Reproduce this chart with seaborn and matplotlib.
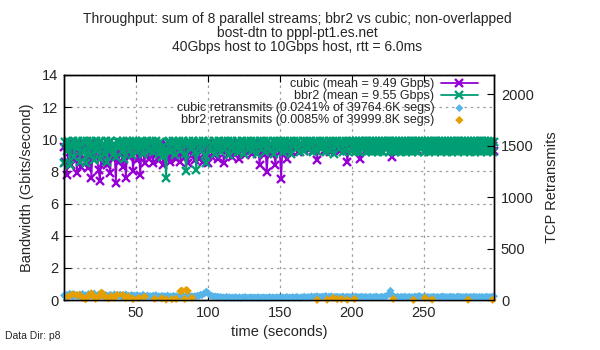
import numpy as np
import matplotlib
matplotlib.use('Agg')
import matplotlib.pyplot as plt
import seaborn as sns

# throughput, Gbits/s, one sample per second
cubic_gbps = [
    9.5, 8.6, 7.8, 9.6, 9.2, 8.4, 9.7, 8.8, 9.4, 7.9,
    9.6, 9.1, 8.3, 9.7, 9.3, 8.6, 9.5, 8.2, 9.6, 7.6,
    9.4, 8.7, 9.7, 8.9, 8.1, 7.4, 9.5, 8.5, 9.7, 9.0,
    8.4, 9.6, 7.9, 9.3, 8.8, 9.7, 7.3, 9.4, 8.6, 9.6,
    9.1, 8.3, 9.7, 7.6, 9.5, 8.9, 9.2, 9.7, 8.0, 9.4,
    9.7, 8.7, 9.3, 7.8, 9.6, 9.1, 8.5, 9.7, 9.4, 8.8,
    9.6, 9.2, 8.5, 9.7, 9.0, 9.5, 8.7, 9.7, 9.3, 8.4,
    9.6, 9.7, 8.9, 9.4, 8.6, 9.7, 9.2, 9.6, 8.8, 9.5,
    9.7, 8.6, 9.3, 9.6, 8.9, 9.7, 8.5, 9.4, 9.6, 9.0,
    9.7, 8.7, 9.5, 9.6, 8.8, 9.7, 9.3, 8.6, 9.6, 9.1,
    8.5, 9.7, 9.4, 8.9, 9.6, 9.7, 9.2, 8.8, 9.6, 9.5,
    9.7, 8.55, 9.4, 9.6, 9.0, 9.7, 9.3, 8.9, 9.6, 9.5,
    9.7, 9.2, 8.8, 9.6, 9.4, 9.7, 9.0, 9.5, 9.7, 9.3,
    9.6, 9.1, 9.7, 9.4, 9.2, 9.6, 8.4, 9.5, 9.7, 9.0,
    9.6, 7.95, 9.4, 9.7, 9.1, 9.6, 9.3, 8.4, 9.7, 9.5,
    9.2, 7.55, 9.6, 9.4, 9.7, 8.8, 9.5, 9.7, 9.3, 9.6,
    9.7, 9.4, 9.6, 9.2, 9.7, 9.5, 9.6, 9.3, 9.7, 9.5,
    9.6, 9.4, 9.7, 9.3, 9.6, 9.5, 8.7, 9.6, 9.7, 9.4,
    9.6, 9.3, 9.7, 9.5, 9.6, 9.2, 9.7, 9.6, 9.4, 9.7,
    9.5, 9.6, 9.3, 9.7, 9.6, 9.4, 9.7, 8.6, 9.5, 9.6,
    9.7, 9.4, 9.6, 9.5, 9.7, 9.3, 8.8, 9.6, 9.7, 9.5,
    9.6, 9.4, 9.7, 9.6, 9.3, 9.7, 9.5, 9.6, 9.7, 9.4,
    9.6, 9.7, 9.5, 9.6, 9.4, 9.7, 9.6, 9.3, 8.9, 9.6,
    9.7, 9.5, 9.6, 9.7, 9.4, 9.6, 9.7, 9.5, 9.6, 9.7,
    9.4, 9.6, 9.7, 9.5, 9.6, 9.7, 9.3, 9.6, 9.7, 9.5,
    9.6, 9.7, 9.4, 9.6, 9.7, 9.5, 9.6, 9.7, 9.4, 9.6,
    9.7, 9.5, 9.6, 9.7, 9.4, 9.6, 9.7, 9.5, 9.6, 9.7,
    9.5, 9.6, 9.7, 9.4, 9.6, 9.7, 9.5, 9.6, 9.7, 9.4,
    9.6, 9.7, 9.5, 9.6, 9.7, 9.4, 9.6, 9.7, 9.5, 9.6,
    9.7, 9.4, 9.6, 9.7, 9.5, 9.6, 9.7, 9.4, 9.6, 9.3,
]
bbr2_gbps = [
    8.5, 9.8, 9.3, 9.9, 8.4, 9.6, 9.9, 8.9, 9.8, 9.4,
    9.9, 8.6, 9.7, 9.9, 9.2, 8.5, 9.9, 9.6, 9.0, 9.9,
    9.5, 8.7, 9.9, 9.3, 9.8, 8.8, 9.9, 9.6, 9.1, 9.9,
    8.6, 9.8, 9.4, 9.9, 9.0, 9.7, 8.9, 9.9, 9.5, 9.8,
    9.2, 9.9, 8.8, 9.7, 9.9, 9.3, 9.8, 9.0, 9.9, 9.6,
    9.9, 9.2, 9.8, 9.5, 9.9, 9.1, 9.8, 9.6, 9.9, 9.3,
    9.8, 9.9, 9.2, 9.7, 9.9, 9.4, 9.1, 9.8, 8.9, 9.6,
    9.3, 7.6, 9.8, 9.9, 9.2, 9.7, 9.9, 9.0, 9.8, 9.5,
    9.9, 9.3, 9.7, 9.9, 9.1, 8.0, 9.8, 9.9, 9.4, 9.7,
    9.9, 9.2, 8.1, 9.8, 9.9, 9.3, 9.7, 9.9, 9.0, 8.5,
    9.8, 9.9, 9.3, 9.7, 9.9, 9.1, 9.8, 9.5, 9.9, 9.2,
    9.8, 9.9, 9.4, 9.7, 9.9, 9.0, 9.8, 9.9, 9.3, 9.7,
    9.9, 9.2, 9.8, 9.5, 9.9, 9.1, 9.8, 9.9, 9.4, 9.7,
    9.9, 9.3, 9.8, 9.9, 9.1, 9.7, 9.9, 9.4, 9.8, 9.9,
    9.2, 9.8, 9.9, 9.3, 9.7, 9.9, 9.1, 9.8, 9.9, 9.4,
    9.8, 9.9, 9.2, 9.7, 9.9, 9.3, 9.8, 9.9, 9.1, 9.7,
    9.9, 9.4, 9.8, 9.9, 9.2, 9.7, 9.9, 9.3, 9.8, 9.9,
    9.4, 9.7, 9.9, 9.2, 9.8, 9.9, 9.3, 9.7, 9.9, 9.4,
    9.8, 9.9, 9.2, 9.7, 9.9, 9.3, 9.8, 9.9, 9.1, 9.7,
    9.9, 9.4, 9.8, 9.9, 9.2, 9.7, 9.9, 9.3, 9.8, 9.9,
    9.3, 9.9, 9.2, 9.9, 9.3, 9.9, 9.2, 9.9, 9.4, 9.9,
    9.2, 9.9, 9.3, 9.9, 9.2, 9.9, 9.3, 9.9, 9.2, 9.9,
    9.3, 9.9, 9.2, 9.9, 9.4, 9.9, 9.2, 9.9, 9.3, 9.9,
    9.2, 9.9, 9.3, 9.9, 9.2, 9.9, 9.3, 9.9, 9.2, 9.9,
    9.3, 9.9, 9.2, 9.9, 9.3, 9.9, 9.2, 9.9, 9.4, 9.9,
    9.2, 9.9, 9.3, 9.9, 9.2, 9.9, 9.3, 9.9, 9.2, 9.9,
    9.3, 9.9, 9.2, 9.9, 9.3, 9.9, 9.2, 9.9, 9.3, 9.9,
    9.2, 9.9, 9.3, 9.9, 9.2, 9.9, 9.3, 9.9, 9.2, 9.9,
    9.3, 9.9, 9.2, 9.9, 9.3, 9.9, 9.2, 9.9, 9.3, 9.9,
    9.2, 9.9, 9.3, 9.9, 9.2, 9.9, 9.3, 9.9, 9.2, 9.8,
]
# TCP retransmits per second
cubic_rtx = [
    45, 38, 52, 30, 61, 44, 35, 57, 40, 48,
    33, 55, 42, 60, 37, 46, 29, 58, 41, 50,
    36, 63, 44, 31, 54, 47, 39, 59, 34, 49,
    42, 28, 51, 45, 37, 56, 33, 48, 40, 53,
    30, 46, 38, 55, 35, 43, 27, 50, 39, 44,
    32, 47, 36, 41, 29, 52, 38, 34, 45, 31,
    40, 27, 43, 35, 48, 30, 37, 25, 42, 33,
    38, 29, 44, 32, 36, 26, 41, 34, 39, 28,
    35, 42, 30, 37, 27, 40, 33, 45, 31, 36,
    29, 38, 34, 43, 40, 52, 47, 58, 66, 82,
    70, 55, 44, 38, 31, 36, 28, 33, 25, 30,
    22, 27, 19, 31, 24, 28, 21, 26, 18, 29,
    23, 20, 27, 17, 25, 22, 30, 19, 24, 21,
    28, 18, 26, 23, 20, 29, 17, 25, 22, 27,
    19, 24, 21, 30, 18, 26, 23, 20, 28, 22,
    25, 19, 27, 21, 24, 30, 18, 26, 22, 29,
    20, 25, 31, 23, 19, 28, 24, 34, 21, 27,
    30, 22, 36, 25, 33, 28, 38, 24, 32, 27,
    35, 29, 40, 26, 33, 30, 37, 25, 31, 28,
    34, 24, 30, 27, 36, 22, 29, 33, 26, 31,
    25, 32, 28, 35, 23, 30, 27, 34, 26, 29,
    31, 24, 28, 33, 22, 30, 26, 35, 27, 25,
    29, 32, 27, 34, 38, 45, 58, 90, 52, 36,
    30, 26, 33, 24, 29, 31, 27, 34, 25, 28,
    32, 26, 30, 23, 35, 28, 33, 40, 31, 27,
    29, 34, 26, 31, 24, 30, 27, 33, 25, 28,
    31, 24, 29, 36, 27, 32, 25, 30, 28, 34,
    26, 31, 23, 29, 35, 27, 32, 24, 30, 28,
    33, 25, 29, 31, 26, 34, 28, 30, 24, 32,
    27, 31, 25, 29, 33, 26, 30, 28, 32, 36,
]
# bbr2 retransmits: only the seconds that had any
bbr2_rtx_sec = [3, 6, 9, 11, 13, 15, 17, 19, 20, 22, 24, 26, 27, 29, 31, 33,
                35, 37, 41, 43, 45, 48, 52, 56, 63, 68, 71, 75, 78, 81, 82,
                84, 85, 86, 89, 176, 183, 187, 190, 193, 197, 202, 229, 243,
                251, 256, 281, 298]
bbr2_rtx = [35, 55, 48, 49, 20, 8, 40, 65, 45, 12, 30, 71, 60, 25, 15, 38,
            22, 50, 49, 18, 32, 10, 20, 32, 12, 16, 5, 8, 10, 85, 90,
            10, 97, 88, 20, 2, 4, 20, 8, 10, 3, 10, 10, 2,
            20, 5, 3, 2]

seconds = np.arange(len(cubic_gbps))

sns.set_style('ticks')
plt.rcParams['font.family'] = ['Liberation Sans', 'DejaVu Sans']

fig = plt.figure(figsize=(6, 3.5), dpi=100)
ax = fig.add_axes([64 / 600, 1 - 300 / 350, 430 / 600, 225 / 350])
ax2 = ax.twinx()

c_cubic = '#9400D3'
c_bbr2 = '#009E73'
c_cubic_r = '#56B4E9'
c_bbr2_r = '#E69F00'

sns.lineplot(x=seconds, y=cubic_gbps, ax=ax, color=c_cubic, lw=1.3, marker='x',
             markersize=5.5, markeredgewidth=1.7, markeredgecolor=c_cubic,
             label='cubic (mean = 9.49 Gbps)', clip_on=False)
sns.lineplot(x=seconds, y=bbr2_gbps, ax=ax, color=c_bbr2, lw=1.3, marker='x',
             markersize=5.5, markeredgewidth=1.7, markeredgecolor=c_bbr2,
             label='bbr2 (mean = 9.55 Gbps)', clip_on=False)
sns.scatterplot(x=seconds, y=cubic_rtx, ax=ax2, color=c_cubic_r, marker='D', s=16,
                edgecolor='none', label='cubic retransmits (0.0241% of 39764.6K segs)', clip_on=False)
sns.scatterplot(x=bbr2_rtx_sec, y=bbr2_rtx, ax=ax2, color=c_bbr2_r, marker='D', s=18,
                edgecolor='none', label='bbr2 retransmits (0.0085% of 39999.8K segs)', clip_on=False)

ax.set_xlim(0, 299)
ax.set_ylim(0, 14)
ax2.set_ylim(0, 2185)
ax.set_xticks([50, 100, 150, 200, 250])
ax.set_yticks(range(0, 15, 2))
ax2.set_yticks(range(0, 2001, 500))

ax.grid(True, ls=(0, (2, 3)), color='#a0a0a0', lw=0.9)
ax.set_axisbelow(True)
ax2.grid(False)

for a in (ax, ax2):
    for s in a.spines.values():
        s.set_visible(True)
        s.set_color('black')
        s.set_linewidth(1.0)
ax.tick_params(direction='in', length=5, top=True, right=False, labelsize=10.5, pad=4, color='black')
ax2.tick_params(direction='in', length=5, labelsize=10.5, pad=5, color='black')

ax.set_xlabel('time (seconds)', fontsize=10.5, labelpad=4)
ax.set_ylabel('Bandwidth (Gbits/second)', fontsize=10.5, labelpad=6)
ax2.set_ylabel('TCP Retransmits', fontsize=10.5, labelpad=8)

h1, l1 = ax.get_legend_handles_labels()
h2, l2 = ax2.get_legend_handles_labels()
if ax.get_legend():
    ax.get_legend().remove()
ax2.legend(h1 + h2, l1 + l2, loc='upper right', bbox_to_anchor=(0.963, 0.985),
           frameon=False, markerfirst=False, fontsize=9, borderaxespad=0, borderpad=0,
           labelspacing=0.0, handlelength=3.0, handletextpad=0.5, scatterpoints=1)

fig.text(0.495, 0.965, 'Throughput: sum of 8 parallel streams; bbr2 vs cubic; non-overlapped\n'
         'bost-dtn to pppl-pt1.es.net\n40Gbps host to 10Gbps host, rtt = 6.0ms',
         ha='center', va='top', fontsize=10, linespacing=1.0)
fig.text(0.008, 0.025, 'Data Dir: p8', fontsize=7.5, ha='left', va='bottom')

fig.savefig('out.png', dpi=100)
